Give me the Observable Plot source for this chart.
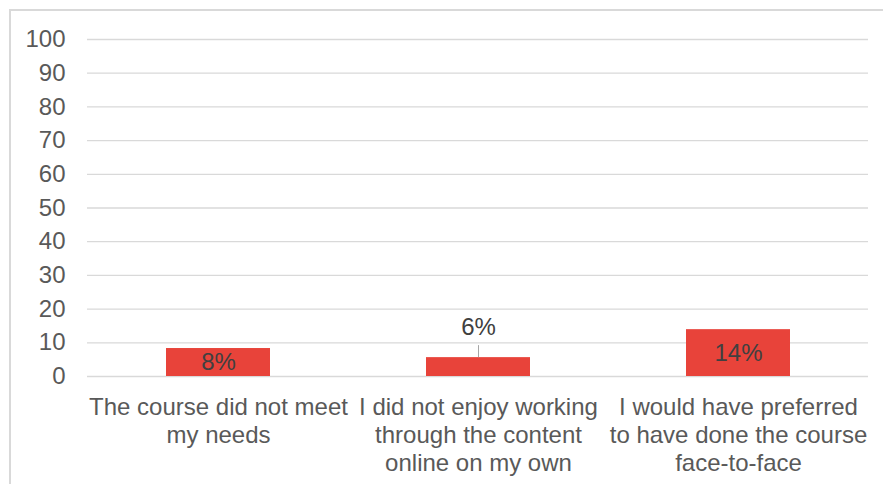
<!DOCTYPE html>
<html>
<head>
<meta charset="utf-8">
<script src="https://cdn.jsdelivr.net/npm/d3@7"></script>
<script src="https://cdn.jsdelivr.net/npm/@observablehq/plot@0.6"></script>
<style>
  html, body { margin: 0; padding: 0; background: #fff; overflow: hidden; }
  #wrap { position: relative; width: 883px; height: 484px; }
  #frame { position: absolute; left: 9px; top: 9px; width: 900px; height: 500px; border: 2px solid #d9d9d9; box-sizing: border-box; }
  #chart { position: absolute; left: 0; top: 0; }
  svg { font-family: "Liberation Sans", Arial, sans-serif; }
</style>
</head>
<body>
<div id="wrap"><div id="frame"></div><div id="chart"></div></div>
<script>
const categories = [
  "The course did not meet\nmy needs",
  "I did not enjoy working\nthrough the content\nonline on my own",
  "I would have preferred\nto have done the course\nface-to-face"
];
const values = [8.3, 5.6, 13.9];
const valueLabels = ["8%", "6%", "14%"];
const labelOutside = [false, true, false];
const yTicks = [0, 10, 20, 30, 40, 50, 60, 70, 80, 90, 100];

const data = categories.map((c, i) => ({category: c, value: values[i], label: valueLabels[i], outside: labelOutside[i]}));

const W = 883, H = 484, mT = 39, mB = 108;
const pxPerUnit = (H - mT - mB) / 100;

const chart = Plot.plot({
  width: W,
  height: H,
  marginLeft: 87,
  marginRight: 15,
  marginTop: mT,
  marginBottom: mB,
  style: {fontFamily: "'Liberation Sans', Arial, sans-serif", background: "transparent"},
  x: {domain: categories, paddingInner: 0.6, paddingOuter: 0.3, axis: null},
  y: {domain: [0, 100], axis: null},
  marks: [
    Plot.gridY(yTicks, {stroke: "#d9d9d9", strokeOpacity: 1, strokeWidth: 1.3}),
    Plot.axisY(yTicks, {tickSize: 0, tickPadding: 22, fontSize: 24, fill: "#595959", label: null}),
    Plot.barY(data, {x: "category", y: "value", fill: "#E8433A"}),
    Plot.ruleX(data.filter(d => d.outside), {x: "category", y1: "value", y2: d => d.value + 12 / pxPerUnit, stroke: "#a6a6a6", strokeWidth: 1}),
    Plot.text(data.filter(d => !d.outside), {x: "category", y: d => d.value / 2, text: "label", fontSize: 24, fill: "#404040"}),
    Plot.text(data.filter(d => d.outside), {x: "category", y: "value", text: "label", dy: -30, fontSize: 24, fill: "#404040"}),
    Plot.text(data, {x: "category", y: () => 0, text: "category", lineAnchor: "top", dy: 19, lineHeight: 28 / 24, fontSize: 24, fill: "#595959"})
  ]
});
document.getElementById("chart").appendChild(chart);
</script>
</body>
</html>
